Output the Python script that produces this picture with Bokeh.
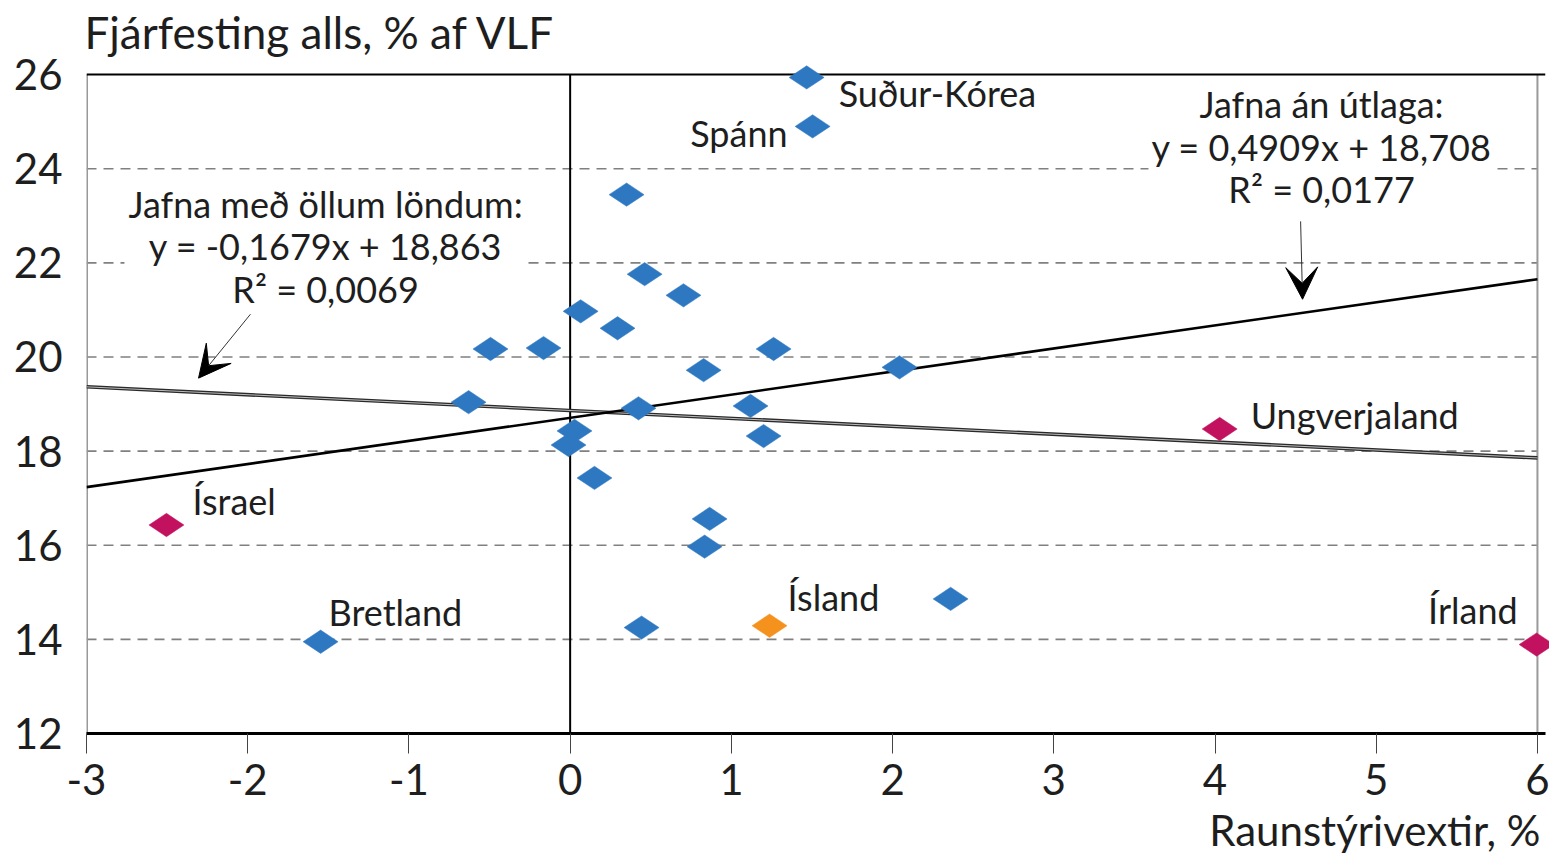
import math
from bokeh.plotting import figure
from bokeh.models import Label, Arrow, VeeHead, FixedTicker, Range1d, ColumnDataSource, Span, Title
from bokeh.embed import file_html
from bokeh.resources import INLINE

# ---------------- data ----------------
x_vals = [1.467, 1.504, 0.350, 0.462, 0.703, 0.065, 0.294, -0.494, -0.165, 1.262,
          0.828, 2.043, -0.630, 0.424, 1.119, 0.027, -0.010, 1.200, 0.151, 0.865,
          0.834, 2.360, 0.443, -1.548, 1.237, -2.504, 4.029, 5.995]
y_vals = [25.94, 24.90, 23.45, 21.76, 21.31, 20.97, 20.61, 20.17, 20.19, 20.17,
          19.72, 19.78, 19.04, 18.91, 18.96, 18.43, 18.13, 18.32, 17.43, 16.56,
          15.97, 14.86, 14.25, 13.95, 14.29, 16.43, 18.47, 13.89]
groups = ["other"] * 24 + ["iceland", "outlier", "outlier", "outlier"]
names = ["Suður-Kórea", "Spánn"] + [""] * 21 + ["Bretland", "Ísland", "Ísrael", "Ungverjaland", "Írland"]

slope_all, icpt_all = -0.1679, 18.863
slope_no, icpt_no = 0.4909, 18.708
eq_all = "Jafna með öllum löndum:\ny = -0,1679x + 18,863\nR² = 0,0069"
eq_no = "Jafna án útlaga:\ny = 0,4909x + 18,708\nR² = 0,0177"

x_ticks = [-3, -2, -1, 0, 1, 2, 3, 4, 5, 6]
y_ticks = [12, 14, 16, 18, 20, 22, 24, 26]
grid_levels = [14, 16, 18, 20, 22, 24]
X_MIN, X_MAX, Y_MIN, Y_MAX = -3, 6, 12, 26

title_text = "Fjárfesting alls, % af VLF"
xlabel_text = "Raunstýrivextir, %"

# ---------------- styles ----------------
FONT = "Lato"
TXT = "#1e1e1e"
ANN_SIZE = "36px"
colors = {"other": "#2e78c2", "iceland": "#f5921e", "outlier": "#c2125f"}
label_style = {
    "Suður-Kórea": ("left", 32, -16),
    "Spánn": ("right", -25, -7),
    "Ungverjaland": ("left", 31, 14),
    "Ísrael": ("left", 26, 24),
    "Bretland": ("left", 8, 30),
    "Ísland": ("left", 18, 29),
    "Írland": ("right", -19, 35),
}

p = figure(width=1549, height=865, output_backend="svg", toolbar_location=None,
           x_range=Range1d(X_MIN, X_MAX + 0.05), y_range=Range1d(Y_MIN, Y_MAX + 0.3),
           min_border_left=86, min_border_right=4, min_border_top=59, min_border_bottom=132)
p.outline_line_color = None
p.xgrid.visible = False
p.ygrid.visible = False
p.background_fill_color = "white"

# title
p.title.text = title_text
p.title.align = "left"
p.title.text_font = FONT
p.title.text_font_size = "44px"
p.title.text_font_style = "normal"
p.title.text_color = TXT
p.title.standoff = 6
p.title.offset = -2

# x axis label as a right-aligned title below the axis
p.add_layout(Title(text=xlabel_text, align="right", text_font=FONT, text_font_size="42px",
                   text_font_style="normal", text_color=TXT, standoff=11, offset=5), "below")

# axes
p.xaxis.ticker = FixedTicker(ticks=x_ticks)
p.yaxis.ticker = FixedTicker(ticks=y_ticks)
p.xaxis.major_label_overrides = {t: str(t) for t in x_ticks}
p.yaxis.major_label_overrides = {t: str(t) for t in y_ticks}
p.xaxis.minor_tick_line_color = None
p.yaxis.minor_tick_line_color = None
p.xaxis.axis_line_color = "black"
p.xaxis.axis_line_width = 3
p.xaxis.major_tick_line_color = "#444"
p.xaxis.major_tick_line_width = 1
p.xaxis.major_tick_out = 20
p.xaxis.major_tick_in = 0
p.xaxis.major_label_standoff = 10
p.yaxis.axis_line_color = None
p.yaxis.major_tick_line_color = None
p.yaxis.major_label_standoff = 18
for ax in (p.xaxis, p.yaxis):
    ax.major_label_text_font = FONT
    ax.major_label_text_font_size = "42px"
    ax.major_label_text_color = TXT

# grid lines (dashed)
p.segment(x0=[X_MIN] * len(grid_levels), y0=grid_levels, x1=[X_MAX] * len(grid_levels), y1=grid_levels,
          line_color="#808080", line_width=1.6, line_dash="10 7")

# frame lines
p.segment(x0=[X_MIN], y0=[Y_MIN], x1=[X_MIN], y1=[Y_MAX], line_color="#999999", line_width=3)
p.segment(x0=[X_MAX], y0=[Y_MIN], x1=[X_MAX], y1=[Y_MAX], line_color="#999999", line_width=2)
p.segment(x0=[0], y0=[Y_MIN], x1=[0], y1=[Y_MAX], line_color="black", line_width=2)

# trend lines
tx = [X_MIN, X_MAX]
p.line(tx, [slope_all * v + icpt_all for v in tx], line_color="#2a2a2a", line_width=3.6)
p.line(tx, [slope_all * v + icpt_all for v in tx], line_color="#bdbdbd", line_width=1.0)
p.line(tx, [slope_no * v + icpt_no for v in tx], line_color="black", line_width=2.6)

# equation boxes (white background hides the grid behind them)
p.add_layout(Label(x=-1.517, y=22.35, text=eq_all, text_align="center", text_baseline="middle",
                   text_font=FONT, text_font_size=ANN_SIZE, text_color=TXT, text_line_height=0.97,
                   background_fill_color="white", padding=4))
p.add_layout(Label(x=4.661, y=24.47, text=eq_no, text_align="center", text_baseline="middle",
                   text_font=FONT, text_font_size=ANN_SIZE, text_color=TXT, text_line_height=0.97,
                   background_fill_color="white", padding=3))

# top frame line
p.add_layout(Span(location=Y_MAX, dimension="width", line_color="black", line_width=2))

# points
src = ColumnDataSource(dict(x=x_vals, y=y_vals, c=[colors[g] for g in groups]))
p.scatter("x", "y", source=src, marker="diamond", size=35, angle=math.pi / 2,
          fill_color="c", line_color="c", line_width=0.5, level="overlay")

# country labels
for nm, xv, yv in zip(names, x_vals, y_vals):
    if not nm:
        continue
    align, dx, dy = label_style[nm]
    p.add_layout(Label(x=xv, y=yv, text=nm, x_offset=dx, y_offset=dy, text_align=align,
                       text_baseline="middle", text_font=FONT, text_font_size=ANN_SIZE,
                       text_color=TXT))

# arrows
p.add_layout(Arrow(x_start=-1.983, y_start=20.909, x_end=-2.305, y_end=19.551,
                   line_color="#333333", line_width=1,
                   end=VeeHead(size=32, fill_color="black", line_color="black")))
p.add_layout(Arrow(x_start=4.531, y_start=22.882, x_end=4.543, y_end=21.227,
                   line_color="#333333", line_width=1,
                   end=VeeHead(size=32, fill_color="black", line_color="black")))

open("out.html", "w").write(file_html(p, INLINE))
